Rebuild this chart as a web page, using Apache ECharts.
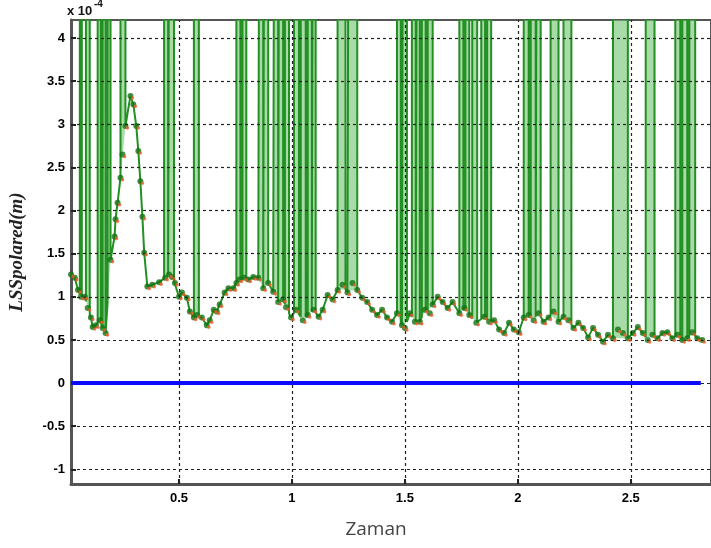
<!DOCTYPE html>
<html><head><meta charset="utf-8">
<script src="https://cdn.jsdelivr.net/npm/echarts@6/dist/echarts.min.js"></script>
<style>html,body{margin:0;padding:0;background:#fff}#c{width:711px;height:548px}</style>
</head><body><div id="c"></div>
<script>
// ---- data (y in units of 1e-4) ----
const timeVals = [0.022,0.039,0.053,0.066,0.083,0.096,0.110,0.118,0.132,0.149,0.162,0.175,
0.197,0.215,0.219,0.228,0.241,0.250,0.263,0.285,0.298,0.311,0.320,0.329,0.338,0.346,0.360,
0.382,0.412,0.439,0.456,0.469,0.482,0.500,0.513,0.535,0.548,0.566,0.579,0.601,0.623,0.636,
0.654,0.667,0.680,0.702,0.719,0.741,0.754,0.768,0.789,0.807,0.829,0.851,0.873,0.895,0.917,
0.939,0.961,0.974,0.996,1.018,1.048,1.070,1.096,1.118,1.136,1.158,1.180,1.202,1.224,1.246,
1.268,1.289,1.311,1.333,1.355,1.377,1.399,1.421,1.443,1.465,1.487,1.500,1.522,1.544,1.566,
1.588,1.610,1.623,1.645,1.667,1.689,1.711,1.741,1.763,1.785,1.816,1.851,1.873,1.895,1.917,
1.939,1.961,1.982,2.004,2.026,2.048,2.070,2.092,2.114,2.136,2.158,2.180,2.202,2.224,2.246,
2.268,2.289,2.311,2.333,2.355,2.377,2.399,2.421,2.443,2.465,2.487,2.509,2.531,2.553,2.575,
2.596,2.618,2.640,2.662,2.684,2.706,2.728,2.750,2.772,2.794,2.816];
const lssVals = [1.26,1.22,1.08,1.00,1.00,0.87,0.76,0.65,0.67,0.73,0.64,0.58,
1.43,1.70,1.90,2.09,2.38,2.65,2.98,3.33,3.23,2.98,2.69,2.34,1.93,1.51,1.12,
1.14,1.17,1.22,1.26,1.23,1.16,1.00,1.05,0.99,0.83,0.76,0.79,0.76,0.67,0.73,
0.85,0.83,0.91,1.05,1.10,1.10,1.16,1.20,1.22,1.20,1.23,1.22,1.10,1.16,1.06,
0.94,0.97,0.88,0.76,0.85,0.73,0.79,0.85,0.77,0.85,1.02,0.97,1.08,1.14,1.05,
1.16,1.08,0.99,0.94,0.85,0.79,0.85,0.76,0.71,0.81,0.67,0.64,0.81,0.71,0.71,
0.85,0.81,0.91,1.00,0.94,0.87,0.94,0.81,0.87,0.79,0.70,0.77,0.71,0.73,0.62,
0.58,0.70,0.62,0.59,0.76,0.79,0.73,0.81,0.71,0.76,0.83,0.71,0.77,0.73,0.64,
0.70,0.64,0.53,0.64,0.56,0.48,0.56,0.52,0.62,0.58,0.52,0.58,0.65,0.58,0.50,
0.56,0.52,0.58,0.59,0.52,0.56,0.50,0.52,0.59,0.52,0.50];
// off-scale spikes (start / end time of each spike)
const spikeStarts = [0.061,0.088,0.140,0.162,0.184,0.241,0.434,0.456,0.566,0.754,0.781,0.855,0.877,
0.921,0.943,0.969,1.009,1.039,1.070,1.092,1.202,1.250,1.465,1.491,1.531,1.553,1.575,1.601,
1.741,1.768,1.798,1.838,1.864,2.026,2.057,2.083,2.145,2.202,2.421,2.566,2.697,2.728,2.759];
const spikeEnds = [0.070,0.105,0.154,0.175,0.197,0.263,0.452,0.478,0.588,0.772,0.798,0.873,0.895,
0.939,0.961,0.987,1.031,1.061,1.088,1.105,1.237,1.289,1.482,1.509,1.548,1.566,1.592,1.623,
1.759,1.785,1.820,1.855,1.882,2.048,2.079,2.101,2.180,2.237,2.487,2.605,2.719,2.750,2.785];
const SPIKE_VALUE = 6;
const zeroLineX = [0.022, 2.81];
const zeroLineY = [0, 0];
const xTicks = [0.5, 1, 1.5, 2, 2.5];
const yTicks = [-1, -0.5, 0, 0.5, 1, 1.5, 2, 2.5, 3, 3.5, 4];
const X_MIN = 0.022, X_MAX = 2.855, Y_MIN = -1.17, Y_MAX = 4.21;

// ---- build ----
function yAt(x){
  for (let i=0;i<timeVals.length-1;i++){
    if (x<=timeVals[i+1]){
      const t=(x-timeVals[i])/(timeVals[i+1]-timeVals[i]);
      return lssVals[i]+t*(lssVals[i+1]-lssVals[i]);
    }
  }
  return lssVals[lssVals.length-1];
}
const pts = timeVals.map((t,i)=>[t,lssVals[i]]);
const lineData = [];
let k = 0, skipUntil = -Infinity;
for (let i=0;i<pts.length;i++){
  while (k<spikeStarts.length && spikeStarts[k] <= pts[i][0]){
    const a=spikeStarts[k], b=spikeEnds[k];
    lineData.push([a,yAt(a)],[a,SPIKE_VALUE],[b,SPIKE_VALUE],[b,yAt(b)]);
    skipUntil = b; k++;
  }
  if (pts[i][0] > skipUntil) lineData.push(pts[i]);
}
const bandData = spikeStarts.map((a,i)=>[a, spikeEnds[i], yAt(a), yAt(spikeEnds[i])]);

const gridStyle = {color:'#222', width:1.2, type:[3,3]};
const labelStyle = {color:'#000', fontWeight:'bold', fontSize:13, fontFamily:'Liberation Sans'};
const chart = echarts.init(document.getElementById('c'), null, {renderer:'canvas'});
chart.setOption({
  animation:false,
  backgroundColor:'#fff',
  grid:{left:68, right:-3, top:20, bottom:64, show:true, borderColor:'#555', borderWidth:2, backgroundColor:'transparent'},
  xAxis:{type:'value', min:X_MIN, max:X_MAX,
    axisLine:{onZero:false, lineStyle:{color:'#555', width:3}},
    axisTick:{inside:true, length:5, customValues:xTicks, lineStyle:{color:'#222', width:2}},
    axisLabel:Object.assign({customValues:xTicks, margin:8}, labelStyle),
    splitLine:{show:false}},
  yAxis:{type:'value', min:Y_MIN, max:Y_MAX,
    name:'LSSpolared(m)', nameLocation:'middle', nameGap:44, nameRotate:90,
    nameTextStyle:{fontFamily:'Liberation Serif', fontStyle:'italic', fontWeight:'bold', fontSize:19, color:'#222'},
    axisLine:{lineStyle:{color:'#555', width:3}},
    axisTick:{inside:true, length:5, customValues:yTicks, lineStyle:{color:'#222', width:2}},
    axisLabel:Object.assign({customValues:yTicks, margin:6}, labelStyle),
    splitLine:{show:false}},
  graphic:[
    {type:'text', x:67, y:5, style:{text:'x 10', fontSize:13, fontWeight:'bold', fontFamily:'Liberation Sans', fill:'#111'}},
    {type:'text', x:94, y:-1, style:{text:'-4', fontSize:10, fontWeight:'bold', fontFamily:'Liberation Sans', fill:'#111'}},
    {type:'text', x:376, y:530, style:{text:'Zaman', align:'center', verticalAlign:'middle', fontSize:19, fontFamily:'Open Sans', fill:'#444'}}
  ],
  series:[
    {type:'line', data:[], z:1, silent:true,
      markLine:{silent:true, symbol:'none', label:{show:false}, lineStyle:gridStyle, animation:false,
        data:[...yTicks.map(v=>({yAxis:v})), ...xTicks.map(v=>({xAxis:v}))]}},
    {type:'custom', z:2, silent:true, clip:true, data:bandData, encode:{x:[0,1], y:[2,3]},
      renderItem:function(params, api){
        const a=api.value(0), b=api.value(1);
        const p = [api.coord([a,api.value(2)]), api.coord([a,Y_MAX]), api.coord([b,Y_MAX]), api.coord([b,api.value(3)])];
        return {type:'polygon', shape:{points:p}, style:{fill:'rgba(110,195,110,0.6)'}};
      }},
    {type:'line', z:3, data:lineData, showSymbol:false, clip:true, lineStyle:{color:'#229022', width:2}},
    {type:'scatter', z:4, data:pts, symbol:'circle', symbolSize:6, itemStyle:{color:'#137313'}},
    {type:'scatter', z:5, data:pts, symbol:'circle', symbolSize:3.5, symbolOffset:[2,2], itemStyle:{color:'#f05a28'}},
    {type:'line', z:6, data:zeroLineX.map((x,i)=>[x,zeroLineY[i]]), showSymbol:false, lineStyle:{color:'#0a0aff', width:4}}
  ]
});
</script></body></html>
